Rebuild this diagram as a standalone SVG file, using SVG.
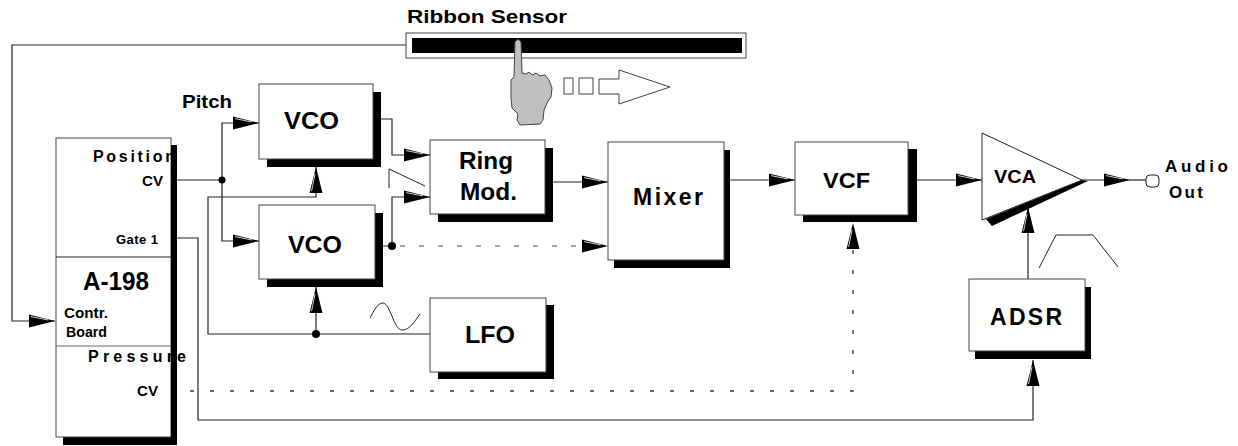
<svg xmlns="http://www.w3.org/2000/svg" width="1238" height="446" viewBox="0 0 1238 446">
<defs>
<style>
.t{font-family:"Liberation Sans",Arial,sans-serif;font-weight:bold;fill:#000}
.box{fill:#fff;stroke:#444;stroke-width:1}
.sh{fill:#000}
.ln{fill:none;stroke:#222;stroke-width:1.2}
.dash{fill:none;stroke:#333;stroke-width:1.3;stroke-dasharray:4 16}
.dashg{fill:none;stroke:#888;stroke-width:1.3;stroke-dasharray:5 14}
.dot{fill:#000}
.thin{fill:none;stroke:#222;stroke-width:1}
</style>
<marker id="ah" markerUnits="userSpaceOnUse" markerWidth="27" markerHeight="14" refX="26" refY="7" orient="auto" viewBox="0 0 27 14">
<path d="M0,0.5 L26,7 L0,13.5 Z" fill="#000"/>
<path d="M2,2.6 L19,6" stroke="#fff" stroke-width="0.8"/>
</marker>
</defs>
<rect width="1238" height="446" fill="#fff"/>

<g id="connectors">
<polyline class="ln" points="406,45 12,45 12,321 55,321" marker-end="url(#ah)"/>
<polyline class="ln" points="177,180 222,180"/>
<polyline class="ln" points="222,180 222,123 259,123" marker-end="url(#ah)"/>
<polyline class="ln" points="222,180 222,241 259,241" marker-end="url(#ah)"/>
<circle class="dot" cx="222" cy="180" r="3.5"/>
<polyline class="ln" points="177,238 198,238 198,420 1033,420 1033,360" marker-end="url(#ah)"/>
<polyline class="dash" points="190,391 853,391 853,223" marker-end="url(#ah)"/>
<polyline class="ln" points="431,334 208,334 208,197 316,197 316,167" marker-end="url(#ah)"/>
<polyline class="ln" points="316,334 316,287" marker-end="url(#ah)"/>
<circle class="dot" cx="316" cy="334" r="4"/>
<polyline class="ln" points="381,119 392,119 392,155 430,155" marker-end="url(#ah)"/>
<polyline class="ln" points="383,246 392,246 392,197 430,197" marker-end="url(#ah)"/>
<circle class="dot" cx="392" cy="246" r="4"/>
<polyline class="dashg" points="400,246 608,246" marker-end="url(#ah)"/>
<polyline class="ln" points="553,182 608,182" marker-end="url(#ah)"/>
<polyline class="ln" points="730,180 795,180" marker-end="url(#ah)"/>
<polyline class="ln" points="916,180 982,180" marker-end="url(#ah)"/>
<polyline class="ln" points="1082,180 1130,180" marker-end="url(#ah)"/>
<polyline class="ln" points="1130,180 1146,180"/>
<polyline class="ln" points="1028,279 1028,207" marker-end="url(#ah)"/>
<polyline class="thin" points="389,188 389,169 425,186"/>
<path class="thin" d="M370,318 C374,310 378,303 383,303 C390,303 394,330 402,330 C410,330 414,322 420,314"/>
<polyline class="thin" points="1039,268 1056,235 1093,235 1118,267"/>
</g>

<g id="ribbon">
<text class="t" x="407" y="23" font-size="19" textLength="160" lengthAdjust="spacingAndGlyphs">Ribbon Sensor</text>
<rect x="406" y="33" width="340" height="25" fill="#fff" stroke="#444" stroke-width="1"/>
<rect x="412" y="38" width="330" height="15" fill="#000"/>
<path d="M515,42 Q518,37 521,42 L522,73 L526,74 L529,72 L532,75 L536,73 L540,76 L545,75 L549,80 L552,88 L551,97 L547,103 L544,110 L543,120 L540,124 L520,125 L517,120 L518,114 L512,108 L511,98 L511,80 L514,77 Z" fill="#c0c0c0" stroke="#444" stroke-width="1"/>
<rect x="564" y="78" width="9" height="16" fill="#fff" stroke="#444" stroke-width="1"/>
<rect x="579" y="78" width="14" height="16" fill="#fff" stroke="#444" stroke-width="1"/>
<path d="M599,79 L619,79 L619,70 L670,87 L619,104 L619,94 L599,94 Z" fill="#fff" stroke="#444" stroke-width="1"/>
</g>

<g id="a198">
<rect class="sh" x="63" y="145" width="114" height="300"/>
<rect class="box" x="56" y="138" width="115" height="299"/>
<line x1="56" y1="257" x2="171" y2="257" stroke="#222" stroke-width="1"/>
<line x1="56" y1="346" x2="171" y2="346" stroke="#666" stroke-width="1"/>
<text class="t" x="93" y="162" font-size="16" textLength="82" lengthAdjust="spacing">Position</text>
<text class="t" x="142" y="186" font-size="15" textLength="21" lengthAdjust="spacingAndGlyphs">CV</text>
<text class="t" x="116" y="244" font-size="13" textLength="42" lengthAdjust="spacing">Gate 1</text>
<text class="t" x="83" y="290" font-size="25" textLength="66" lengthAdjust="spacingAndGlyphs">A-198</text>
<text class="t" x="64" y="318" font-size="14" textLength="44" lengthAdjust="spacingAndGlyphs">Contr.</text>
<text class="t" x="66" y="337" font-size="14" textLength="41" lengthAdjust="spacingAndGlyphs">Board</text>
<text class="t" x="88" y="362" font-size="16" textLength="98" lengthAdjust="spacing">Pressure</text>
<text class="t" x="137" y="396" font-size="15" textLength="21" lengthAdjust="spacingAndGlyphs">CV</text>
<rect class="sh" x="171" y="145" width="6" height="300"/>
</g>

<g id="pitch-label">
<text class="t" x="182" y="108" font-size="19" textLength="50" lengthAdjust="spacingAndGlyphs">Pitch</text>
</g>

<g id="vco1">
<rect class="sh" x="267" y="92" width="114" height="75"/>
<rect class="box" x="259" y="84" width="114" height="75"/>
<text class="t" x="284" y="129" font-size="24" textLength="55" lengthAdjust="spacingAndGlyphs">VCO</text>
</g>

<g id="vco2">
<rect class="sh" x="267" y="213" width="116" height="74"/>
<rect class="box" x="259" y="205" width="116" height="74"/>
<text class="t" x="288" y="253" font-size="24" textLength="54" lengthAdjust="spacingAndGlyphs">VCO</text>
</g>

<g id="lfo">
<rect class="sh" x="438" y="305" width="116" height="74"/>
<rect class="box" x="430" y="298" width="116" height="74"/>
<text class="t" x="465" y="343" font-size="24" textLength="50" lengthAdjust="spacingAndGlyphs">LFO</text>
</g>

<g id="ringmod">
<rect class="sh" x="438" y="148" width="115" height="74"/>
<rect class="box" x="430" y="140" width="115" height="74"/>
<text class="t" x="459" y="169" font-size="23" textLength="54" lengthAdjust="spacingAndGlyphs">Ring</text>
<text class="t" x="460" y="200" font-size="23" textLength="57" lengthAdjust="spacingAndGlyphs">Mod.</text>
</g>

<g id="mixer">
<rect class="sh" x="614" y="150" width="116" height="118"/>
<rect class="box" x="608" y="142" width="116" height="118"/>
<text class="t" x="633" y="205" font-size="23" textLength="70" lengthAdjust="spacing">Mixer</text>
</g>

<g id="vcf">
<rect class="sh" x="803" y="149" width="114" height="73"/>
<rect class="box" x="795" y="142" width="113" height="73"/>
<text class="t" x="823" y="188" font-size="22" textLength="47" lengthAdjust="spacingAndGlyphs">VCF</text>
</g>

<g id="vca">
<polygon class="sh" points="986,219 1082,180 1088,181 992,226"/>
<polygon points="982,133 1082,180 982,220" fill="#fff" stroke="#222" stroke-width="1"/>
<text class="t" x="994" y="183" font-size="18" textLength="42" lengthAdjust="spacingAndGlyphs">VCA</text>
</g>

<g id="audio-out">
<rect x="1146" y="175" width="13" height="12" rx="4" fill="#fff" stroke="#222" stroke-width="1"/>
<text class="t" x="1165" y="172" font-size="17" textLength="63" lengthAdjust="spacing">Audio</text>
<text class="t" x="1169" y="198" font-size="17" textLength="34" lengthAdjust="spacing">Out</text>
</g>

<g id="adsr">
<rect class="sh" x="975" y="287" width="116" height="72"/>
<rect class="box" x="969" y="279" width="116" height="72"/>
<text class="t" x="990" y="325" font-size="23" textLength="72" lengthAdjust="spacing">ADSR</text>
</g>
</svg>
